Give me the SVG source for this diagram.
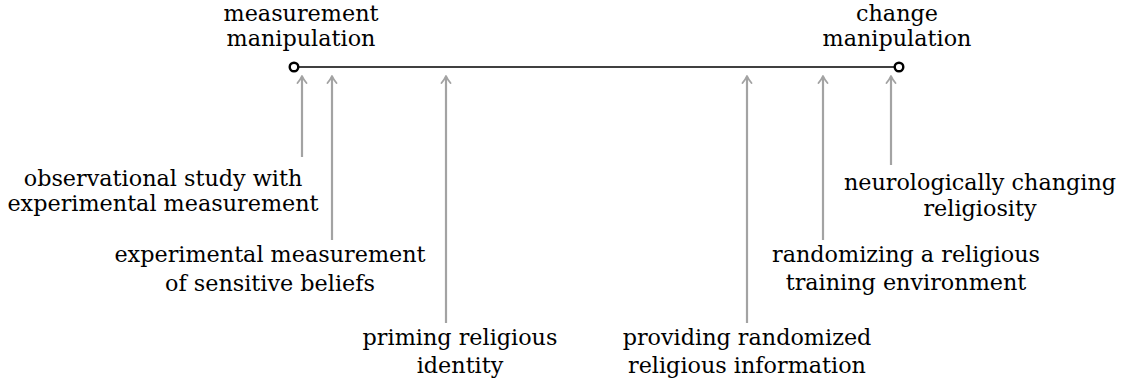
<svg xmlns="http://www.w3.org/2000/svg" width="1124" height="385" viewBox="0 0 1124 385">
<defs>
<style>
text{font-family:"DejaVu Serif","Liberation Serif",serif;font-size:22.3px;fill:#000;text-anchor:middle}
.axis{stroke:#000;stroke-width:1.4;fill:none}
.end{fill:#fff;stroke:#000;stroke-width:2.4}
.arr{stroke:#a3a3a3;stroke-width:2.2;fill:none}
.head{stroke:#a3a3a3;stroke-width:1.9;fill:none;stroke-linecap:round;stroke-linejoin:round}
</style>
</defs>
<g id="connectors">
<line class="axis" x1="294" y1="67" x2="899" y2="67"/>
<g id="a1"><line class="arr" x1="302" y1="157" x2="302" y2="77"/><path class="head" d="M297.5,83 Q300.5,79.5 302,76 Q303.5,79.5 306.5,83"/></g>
<g id="a2"><line class="arr" x1="332" y1="240" x2="332" y2="77"/><path class="head" d="M327.5,83 Q330.5,79.5 332,76 Q333.5,79.5 336.5,83"/></g>
<g id="a3"><line class="arr" x1="446" y1="323" x2="446" y2="77"/><path class="head" d="M441.5,83 Q444.5,79.5 446,76 Q447.5,79.5 450.5,83"/></g>
<g id="a4"><line class="arr" x1="747" y1="323" x2="747" y2="77"/><path class="head" d="M742.5,83 Q745.5,79.5 747,76 Q748.5,79.5 751.5,83"/></g>
<g id="a5"><line class="arr" x1="823" y1="240" x2="823" y2="77"/><path class="head" d="M818.5,83 Q821.5,79.5 823,76 Q824.5,79.5 827.5,83"/></g>
<g id="a6"><line class="arr" x1="891" y1="165" x2="891" y2="77"/><path class="head" d="M886.5,83 Q889.5,79.5 891,76 Q892.5,79.5 895.5,83"/></g>
</g>
<g id="measurement-manipulation">
<circle class="end" cx="294" cy="67" r="4.3"/>
<text x="301" y="21">measurement</text>
<text x="301" y="46">manipulation</text>
</g>
<g id="change-manipulation">
<circle class="end" cx="899" cy="67" r="4.3"/>
<text x="897" y="21">change</text>
<text x="897" y="46">manipulation</text>
</g>
<g id="observational">
<text x="163" y="186">observational study with</text>
<text x="163" y="211">experimental measurement</text>
</g>
<g id="sensitive">
<text x="270" y="262">experimental measurement</text>
<text x="270" y="291">of sensitive beliefs</text>
</g>
<g id="priming">
<text x="460" y="345">priming religious</text>
<text x="460" y="373">identity</text>
</g>
<g id="providing">
<text x="747" y="345">providing randomized</text>
<text x="747" y="373">religious information</text>
</g>
<g id="randomizing">
<text x="906" y="262">randomizing a religious</text>
<text x="906" y="290">training environment</text>
</g>
<g id="neuro">
<text x="980" y="190">neurologically changing</text>
<text x="980" y="216">religiosity</text>
</g>
</svg>
